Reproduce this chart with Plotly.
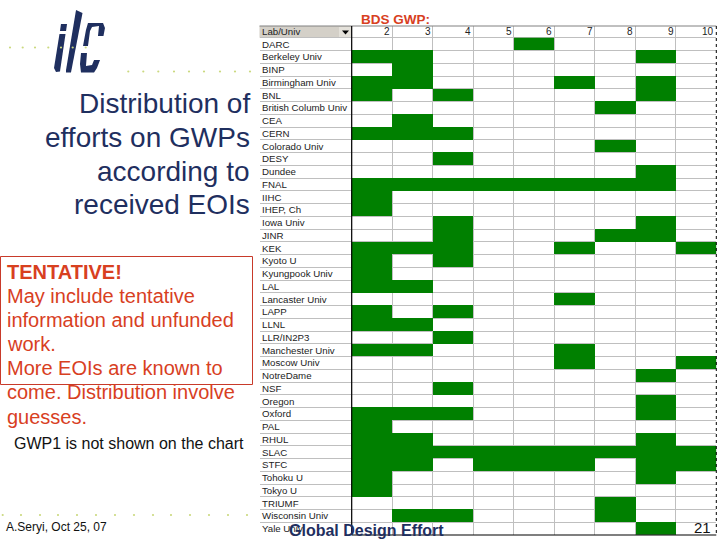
import plotly.graph_objects as go

W, H = 720, 540

# table content
LABS = ['DARC', 'Berkeley Univ', 'BINP', 'Birmingham Univ', 'BNL', 'British Columb Univ', 'CEA',
        'CERN', 'Colorado Univ', 'DESY', 'Dundee', 'FNAL', 'IIHC', 'IHEP, Ch', 'Iowa Univ', 'JINR',
        'KEK', 'Kyoto U', 'Kyungpook Univ', 'LAL', 'Lancaster Univ', 'LAPP', 'LLNL', 'LLR/IN2P3',
        'Manchester Univ', 'Moscow Univ', 'NotreDame', 'NSF', 'Oregon', 'Oxford', 'PAL', 'RHUL',
        'SLAC', 'STFC', 'Tohoku U', 'Tokyo U', 'TRIUMF', 'Wisconsin Univ', 'Yale Univ']
GWPS = [2, 3, 4, 5, 6, 7, 8, 9, 10]
# which GWPs each lab signed up for, same order as LABS
EFFORTS = [
    [6], [2, 3, 9], [3], [2, 3, 7, 9], [2, 4, 9], [8], [3], [2, 3, 4], [8], [4], [9],
    [2, 3, 4, 5, 6, 7, 8, 9], [2], [2], [4, 9], [4, 8, 9], [2, 3, 4, 7, 10], [2, 4], [2], [2, 3],
    [7], [2, 4], [2, 3], [4], [2, 3, 7], [7, 10], [9], [4], [9], [2, 3, 4, 9], [2], [2, 3, 9],
    [2, 3, 4, 5, 6, 7, 8, 9, 10], [2, 3, 5, 6, 7, 9, 10], [2, 9], [2], [8], [3, 4, 8], [9],
]
TITLE_LINES = ['Distribution of', 'efforts on GWPs', 'according to', 'received EOIs']
NOTE_LINES = ['<b>TENTATIVE!</b>', 'May include tentative', 'information and unfunded', 'work.',
              'More EOIs are known to', 'come. Distribution involve', 'guesses.']

GREEN = '#008000'
GRID = '#BFBFBF'
NAVY = '#1F2F5F'
RED = '#D8401F'
DOT = '#CBD97F'
FONT = 'Liberation Sans'


def xp(px):
    return px / W


def yp(py):
    return 1 - py / H


def page_text(x, y, text, size, color, anchor='left'):
    return dict(x=xp(x), y=yp(y), xref='paper', yref='paper', text=text, showarrow=False,
                xanchor=anchor, yanchor='middle', align=anchor,
                font=dict(family=FONT, size=size, color=color))


def page_line(x0, y0, x1, y1, color, width=1, dash='solid'):
    return dict(type='line', xref='paper', yref='paper', x0=xp(x0), y0=yp(y0), x1=xp(x1), y1=yp(y1),
                line=dict(color=color, width=width, dash=dash))


def page_poly(points, color):
    path = 'M' + ' L'.join(f'{xp(x):.4f},{yp(y):.4f}' for x, y in points) + ' Z'
    return dict(type='path', xref='paper', yref='paper', path=path, fillcolor=color,
                line=dict(width=0), layer='above')


def page_dot(x, y, r=1.1):
    return dict(type='circle', xref='paper', yref='paper', x0=xp(x - r), x1=xp(x + r),
                y0=yp(y + r), y1=yp(y - r), fillcolor=DOT, line=dict(width=0))


# table frame in page pixels
TABLE_L, TABLE_R, TABLE_T, TABLE_B = 259.5, 716.3, 26.0, 535.0
FIRST_COL_X = 351.7
COL_W = (TABLE_R - FIRST_COL_X) / len(GWPS)
ROW_H = 12.75
HEADER_B = TABLE_B - ROW_H * len(LABS)

x_start = GWPS[0] - 0.5 - (FIRST_COL_X - TABLE_L) / COL_W
y_start = -0.5 - (HEADER_B - TABLE_T) / ROW_H

z = [[1 if g in row else None for g in GWPS] for row in EFFORTS]

fig = go.Figure(go.Heatmap(
    x=GWPS,
    y=list(range(len(LABS))),
    z=z,
    zmin=0,
    zmax=1,
    colorscale=[[0, GREEN], [1, GREEN]],
    showscale=False,
    hoverinfo='skip',
))

annotations = []
for i, lab in enumerate(LABS):
    annotations.append(dict(x=x_start, y=i, xref='x', yref='y', text=lab, showarrow=False,
                            xanchor='left', xshift=0, font=dict(family=FONT, size=9.7, color='#222222')))
for g in GWPS:
    annotations.append(dict(x=g + 0.5, y=-1, xref='x', yref='y', text=str(g), showarrow=False,
                            xanchor='right', xshift=0, font=dict(family=FONT, size=10, color='#222222')))
annotations.append(dict(x=x_start, y=-1, xref='x', yref='y', text='Lab/Univ', showarrow=False,
                        xanchor='left', xshift=0, font=dict(family=FONT, size=9.7, color='#222222')))

for line, y in zip(TITLE_LINES, [103, 137, 171, 204]):
    annotations.append(page_text(252, y, line, 28, NAVY, 'right'))
for line, y in zip(NOTE_LINES, [272, 296, 320, 344, 368, 392, 417]):
    annotations.append(page_text(5, y, line, 20, RED))
annotations += [
    page_text(12, 443, 'GWP1 is not shown on the chart', 16, '#111111'),
    page_text(4, 527, 'A.Seryi, Oct 25, 07', 12, '#111111'),
    page_text(395, 19, '<b>BDS GWP:</b>', 13.5, RED, 'center'),
    page_text(366, 530, '<b>Global Design Effort</b>', 16, NAVY, 'center'),
    page_text(713, 527, '21', 15, '#111111', 'right'),
]

shapes = [
    # header cell and filter button
    dict(type='rect', xref='paper', yref='paper', x0=xp(TABLE_L), x1=xp(FIRST_COL_X), y0=yp(HEADER_B),
         y1=yp(TABLE_T), fillcolor='#D4D0C8', line=dict(width=0), layer='below'),
    dict(type='rect', xref='paper', yref='paper', x0=xp(339), x1=xp(351), y0=yp(37), y1=yp(27),
         fillcolor='#E4E1DA', line=dict(width=0), layer='below'),
    page_poly([(342, 30.5), (349, 30.5), (345.5, 34.5)], '#000000'),
    page_line(TABLE_L, TABLE_T, TABLE_R, TABLE_T, '#808080'),
    page_line(FIRST_COL_X, TABLE_T, FIRST_COL_X, TABLE_B, '#000000', 1.2),
    page_line(FIRST_COL_X, TABLE_B, TABLE_R, TABLE_B, '#000000', 1.2),
    page_line(TABLE_R, TABLE_T, TABLE_R, TABLE_B, '#000000', 1, 'dot'),
    # red box around the warning
    dict(type='rect', xref='paper', yref='paper', x0=xp(0.5), x1=xp(252.5), y0=yp(384.5), y1=yp(256.5),
         line=dict(color='#C83A2A', width=1)),
    # logo
    page_poly([(61, 24), (67, 24), (66, 31), (60, 31)], NAVY),
    page_poly([(59.5, 34), (65.5, 34), (60, 71.5), (56, 72), (54, 68)], NAVY),
    page_poly([(76, 10), (82.5, 13), (71, 72.5), (66, 72.5), (66, 70)], NAVY),
    page_poly([(83, 46), (88, 46), (90, 31), (92, 27), (99, 26), (98, 36), (103.5, 36), (105, 28),
               (103, 23), (88, 23), (86, 30)], NAVY),
    page_poly([(81, 53), (80, 64), (81, 72.5), (94, 72.5), (97, 68), (100, 60), (94, 60), (92, 65),
               (86, 66), (87, 53)], NAVY),
]
for x in [10, 22.7, 35, 48.3, 61, 72.7, 85.7]:
    shapes.append(page_dot(x, 47.5))
for x in [128.3, 143.3, 158.3, 174, 189, 204, 220, 235, 250]:
    shapes.append(page_dot(x, 71.5))
for x in [2.7, 21, 40, 58, 77, 96, 115, 134, 153, 171, 190, 209, 228, 247]:
    shapes.append(page_dot(x, 515))

fig.update_layout(
    width=W,
    height=H,
    margin=dict(l=0, r=0, t=0, b=0),
    paper_bgcolor='white',
    plot_bgcolor='white',
    showlegend=False,
    annotations=annotations,
    shapes=shapes,
    xaxis=dict(
        domain=[xp(TABLE_L), xp(TABLE_R)],
        range=[x_start, GWPS[-1] + 0.5],
        tickvals=[x_start] + [g - 0.5 for g in GWPS] + [GWPS[-1] + 0.5],
        showticklabels=False,
        ticks='',
        showgrid=True,
        gridcolor=GRID,
        gridwidth=1,
        zeroline=False,
    ),
    yaxis=dict(
        domain=[yp(TABLE_B), yp(TABLE_T)],
        range=[len(LABS) - 0.5, y_start],
        tickvals=[i - 0.5 for i in range(len(LABS) + 1)],
        showticklabels=False,
        ticks='',
        showgrid=True,
        gridcolor=GRID,
        gridwidth=1,
        zeroline=False,
    ),
)

# the page's default body margin would push the slide off its 720x540 frame
fig.write_html("out.html", config={'displayModeBar': False},
               post_script="document.body.style.margin='0';")
